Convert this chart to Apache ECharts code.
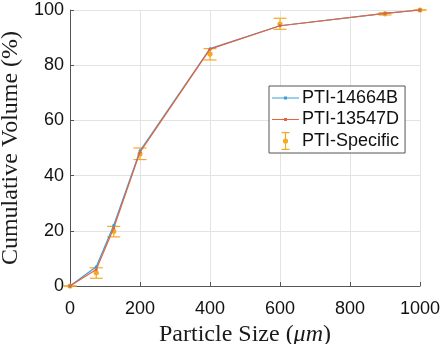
<!DOCTYPE html>
<html>
<head>
<meta charset="utf-8">
<script src="https://cdn.jsdelivr.net/npm/echarts@6/dist/echarts.min.js"></script>
<style>
  html, body { margin: 0; padding: 0; background: #fff; }
  #container { width: 443px; height: 344px; }
</style>
</head>
<body>
<div id="container"></div>
<script>
// particle size (um)
var sizes = [0, 75, 125, 200, 400, 600, 900, 1000];
var pti14664B = [0, 7, 22, 49, 86, 94.3, 98.8, 100];
var pti13547D = [0, 6, 21, 48.5, 85.8, 94.3, 98.8, 100];
// PTI-Specific mean and error bar bounds
var specMean = [0, 4.8, 19.8, 47.8, 84.1, 94.9, 98.6, 100];
var specLow  = [0, 2.8, 17.8, 45.8, 81.9, 93, 98.2, 100];
var specHigh = [0, 6.6, 21.6, 50, 86, 97, 99, 100];
var xTicks = [0, 200, 400, 600, 800, 1000];
var yTicks = [0, 20, 40, 60, 80, 100];

var blue = '#3a9fd8';
var red = '#e8623a';
var orange = '#f7a823';

function pairs(ys) {
  return sizes.map(function (x, i) { return [x, ys[i]]; });
}

var errData = sizes.map(function (x, i) {
  return [x, specMean[i], specLow[i], specHigh[i]];
});

// legend icons: thin line with a small dot, and an error bar
var lineIcon = 'path://M0,4.4h27v1.2h-27z M12,3.5h3v3h-3z';
var errIcon = 'path://M0,0h8v1.2h-8z M3.4,0h1.2v18h-1.2z M0,16.8h8v1.2h-8z M1.4,9a2.6,2.6 0 1,1 5.2,0a2.6,2.6 0 1,1 -5.2,0z';

var chart = echarts.init(document.getElementById('container'));
var option = {
  backgroundColor: '#fff',
  animation: false,
  grid: { left: 70, right: 23, top: 10, bottom: 58, outerBoundsMode: 'none', containLabel: false },
  xAxis: {
    type: 'value',
    min: xTicks[0], max: xTicks[xTicks.length - 1], interval: 200,
    name: '{n|Particle Size (}{i|\u03bcm}{n|)}',
    nameLocation: 'middle',
    nameGap: 26,
    nameTextStyle: {
      rich: {
        n: { fontFamily: 'Liberation Serif', fontSize: 24, color: '#1a1a1a' },
        i: { fontFamily: 'Liberation Serif', fontStyle: 'italic', fontSize: 24, color: '#1a1a1a' }
      }
    },
    axisLine: { show: true, onZero: false, lineStyle: { color: '#555', width: 1 } },
    axisTick: { show: true, inside: true, length: 4, lineStyle: { color: '#555' } },
    axisLabel: {
      color: '#111', fontSize: 18, fontFamily: 'Liberation Sans', margin: 14,
      formatter: function (v) { return String(v); }
    },
    splitLine: { show: true, lineStyle: { color: '#e3e3e3', width: 1 } }
  },
  yAxis: {
    type: 'value',
    min: yTicks[0], max: yTicks[yTicks.length - 1], interval: 20,
    name: 'Cumulative Volume (%)',
    nameLocation: 'middle',
    nameGap: 42,
    nameTextStyle: { fontFamily: 'Liberation Serif', fontSize: 24, color: '#1a1a1a' },
    axisLine: { show: true, lineStyle: { color: '#555', width: 1 } },
    axisTick: { show: true, inside: true, length: 4, lineStyle: { color: '#555' } },
    axisLabel: { color: '#111', fontSize: 18, fontFamily: 'Liberation Sans', margin: 6 },
    splitLine: { show: true, lineStyle: { color: '#e3e3e3', width: 1 } }
  },
  legend: {
    orient: 'vertical',
    left: 269, top: 86,
    backgroundColor: '#fff',
    borderColor: '#555', borderWidth: 1,
    padding: [3, 6, 3, 3],
    itemGap: 3.5,
    itemWidth: 27, itemHeight: 18,
    textStyle: { fontFamily: 'Liberation Sans', fontSize: 18, color: '#111', padding: [0, 0, 0, -2] },
    data: [
      { name: 'PTI-14664B', icon: lineIcon },
      { name: 'PTI-13547D', icon: lineIcon },
      { name: 'PTI-Specific', icon: errIcon }
    ]
  },
  series: [
    {
      name: 'PTI-14664B', type: 'line', data: pairs(pti14664B),
      symbol: 'circle', symbolSize: 3,
      lineStyle: { color: blue, width: 1.2 },
      itemStyle: { color: blue }
    },
    {
      name: 'PTI-13547D', type: 'line', data: pairs(pti13547D),
      symbol: 'circle', symbolSize: 3,
      lineStyle: { color: red, width: 1.2 },
      itemStyle: { color: red }
    },
    {
      name: 'PTI-Specific', type: 'custom', data: errData,
      itemStyle: { color: orange },
      clip: false,
      renderItem: function (params, api) {
        var x = api.value(0);
        var pm = api.coord([x, api.value(1)]);
        var pl = api.coord([x, api.value(2)]);
        var ph = api.coord([x, api.value(3)]);
        var hw = 6.5;
        var st = { stroke: orange, lineWidth: 1.2 };
        return {
          type: 'group',
          children: [
            { type: 'line', shape: { x1: pl[0], y1: pl[1], x2: ph[0], y2: ph[1] }, style: st },
            { type: 'line', shape: { x1: pl[0] - hw, y1: pl[1], x2: pl[0] + hw, y2: pl[1] }, style: st },
            { type: 'line', shape: { x1: ph[0] - hw, y1: ph[1], x2: ph[0] + hw, y2: ph[1] }, style: st },
            { type: 'circle', shape: { cx: pm[0], cy: pm[1], r: 2.6 }, style: { fill: orange } }
          ]
        };
      }
    }
  ]
};
chart.setOption(option);
</script>
</body>
</html>
